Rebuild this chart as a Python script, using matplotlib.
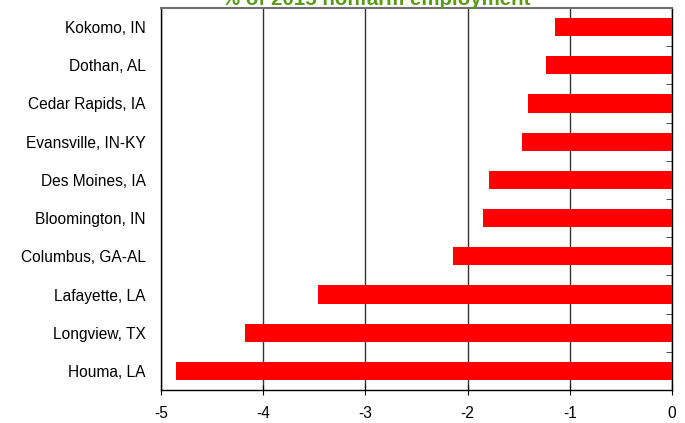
import matplotlib
matplotlib.use("Agg")
import matplotlib.pyplot as plt
import numpy as np

plt.rcParams['font.family'] = ['Liberation Sans', 'DejaVu Sans']

# bottom to top
metros = ['Houma, LA', 'Longview, TX', 'Lafayette, LA', 'Columbus, GA-AL',
          'Bloomington, IN', 'Des Moines, IA', 'Evansville, IN-KY',
          'Cedar Rapids, IA', 'Dothan, AL', 'Kokomo, IN']
change = [-4.85, -4.18, -3.46, -2.14, -1.85, -1.79, -1.47, -1.41, -1.23, -1.14]
xticks = [-5, -4, -3, -2, -1, 0]

fig = plt.figure(figsize=(6.85, 4.23), dpi=100)
ax = fig.add_axes([161/685, 1 - 390/423, (672 - 161)/685, (390 - 8)/423])

ypos = np.arange(len(metros))
ax.barh(ypos, change, height=0.48, color='#FF0000', zorder=3)

ax.set_xlim(-5, 0)
ax.set_ylim(-0.5, len(metros) - 0.5)
ax.set_xticks(xticks)
ax.set_xticklabels([str(t) for t in xticks], fontsize=11.2)
ax.set_yticks(ypos)
ax.set_yticklabels(metros, fontsize=11.2)
ax.set_yticks(np.arange(len(metros) + 1) - 0.5, minor=True)

ax.grid(axis='x', color='#333333', linewidth=1, zorder=1)
ax.tick_params(axis='y', which='major', length=0, pad=11)
ax.tick_params(axis='y', which='minor', left=False, right=True, direction='in',
               length=4, color='#333333')
ax.tick_params(axis='x', direction='inout', length=7, pad=8, color='black')

for s in ['left', 'bottom', 'right']:
    ax.spines[s].set_color('black')
    ax.spines[s].set_linewidth(1)
ax.spines['top'].set_color('#707070')
ax.spines['top'].set_linewidth(1.5)

# title sits partly above the top edge, as in the source image
fig.text(376/685, 1 - 5/423, '% of 2015 nonfarm employment', ha='center',
         va='baseline', fontsize=14.8, fontweight='bold', color='#5A9A14')

fig.savefig('out.png', dpi=100)
